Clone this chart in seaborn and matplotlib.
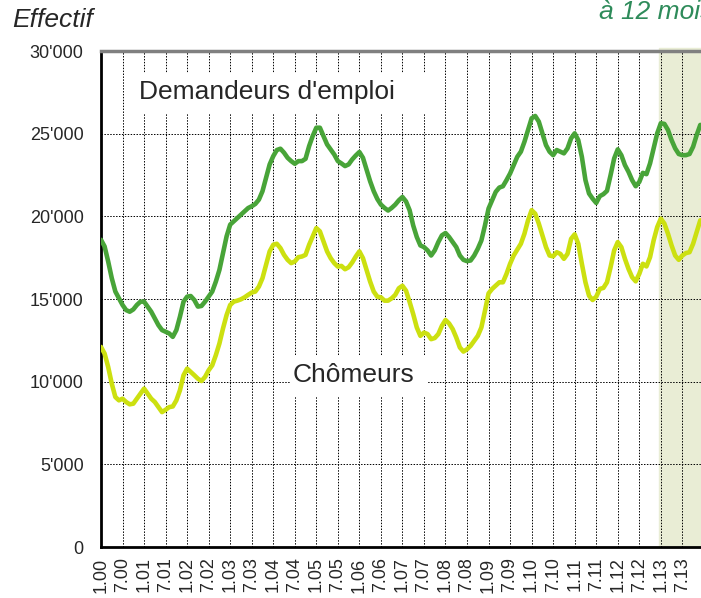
import numpy as np
import pandas as pd
import matplotlib
matplotlib.use("Agg")
import matplotlib.pyplot as plt
from matplotlib.patches import Rectangle
import seaborn as sns

# monthly values, Jan 2000 .. Dec 2013
demandeurs = [
    18580, 18180, 17270, 16260, 15450, 15040, 14640, 14330, 14230, 14370, 14640, 14840,
    14840, 14540, 14230, 13830, 13420, 13120, 13020, 12920, 12710, 13120, 13930, 14840,
    15140, 15180, 14940, 14540, 14580, 14840, 15140, 15450, 16050, 16760, 17770, 18790,
    19500, 19700, 19900, 20100, 20300, 20500, 20610, 20750, 21010, 21520, 22330, 23140,
    23640, 24010, 24090, 23850, 23540, 23340, 23180, 23340, 23340, 23480, 24250, 24860,
    25360, 25360, 24860, 24350, 24050, 23740, 23340, 23200, 23040, 23140, 23440, 23680,
    23890, 23540, 22830, 22120, 21520, 21050, 20710, 20510, 20350, 20510, 20710, 20970,
    21170, 20900, 20370, 19450, 18750, 18240, 18140, 17940, 17630, 17940, 18440, 18850,
    18990, 18750, 18440, 18140, 17630, 17370, 17290, 17330, 17630, 18040, 18540, 19450,
    20470, 20970, 21480, 21740, 21820, 22190, 22590, 23100, 23600, 23910, 24510, 25220,
    25930, 26070, 25730, 25020, 24310, 23910, 23700, 24010, 23910, 23810, 24110, 24720,
    25020, 24610, 23600, 22190, 21380, 21070, 20810, 21220, 21340, 21540, 22490, 23500,
    24050, 23700, 23100, 22690, 22190, 21820, 22080, 22630, 22550, 23200, 24110, 25020,
    25630, 25590, 25220, 24610, 24110, 23770, 23700, 23700, 23770, 24210, 24920, 25530,
]
chomeurs = [
    12100, 11700, 10890, 9880, 9070, 8870, 8970, 8770, 8630, 8670, 8970, 9270,
    9580, 9270, 8970, 8770, 8460, 8160, 8300, 8460, 8500, 8870, 9480, 10390,
    10790, 10590, 10390, 10180, 10040, 10290, 10690, 10990, 11600, 12310, 13220, 14030,
    14640, 14840, 14900, 14980, 15100, 15250, 15390, 15450, 15750, 16260, 17070, 17880,
    18280, 18340, 18080, 17670, 17370, 17170, 17270, 17530, 17570, 17670, 18280, 18790,
    19290, 19090, 18480, 17880, 17470, 17170, 16960, 17000, 16800, 16920, 17210, 17570,
    17880, 17470, 16760, 16050, 15450, 15140, 15100, 14900, 14900, 15040, 15250, 15650,
    15800, 15500, 14820, 14090, 13280, 12770, 12970, 12880, 12570, 12640, 12880, 13380,
    13730, 13520, 13180, 12670, 12070, 11820, 11960, 12170, 12470, 12770, 13280, 14290,
    15340, 15610, 15810, 16010, 16010, 16520, 17130, 17630, 17980, 18340, 18950, 19760,
    20370, 20160, 19560, 18850, 18140, 17630, 17580, 17830, 17730, 17430, 17730, 18640,
    18910, 18340, 17130, 16010, 15200, 14940, 15140, 15610, 15670, 16010, 16920, 17940,
    18440, 18140, 17430, 16820, 16320, 16070, 16520, 17130, 16970, 17530, 18540, 19350,
    19860, 19560, 18950, 18240, 17630, 17370, 17630, 17780, 17830, 18340, 19050, 19760,
]
years = list(range(2000, 2014))
year_labels = ["1.%02d" % (y % 100) for y in years]
mid_labels = ["7.%02d" % (y % 100) for y in years]

months = np.arange(len(demandeurs))
df = pd.DataFrame({
    "mois": np.concatenate([months, months]),
    "effectif": demandeurs + chomeurs,
    "serie": ["Demandeurs d'emploi"] * len(months) + ["Chômeurs"] * len(months),
})

sns.set_style("white")
plt.rcParams["font.family"] = ["Liberation Sans", "DejaVu Sans"]

fig = plt.figure(figsize=(7.01, 5.98), dpi=100)
ax = fig.add_axes([101 / 701, 51 / 598, 600 / 701, 496 / 598])

# forecast band (12 months)
ax.axvspan(155.4, 170, ymax=1.007, color="#e9edd5", zorder=0, clip_on=False)

sns.lineplot(
    data=df, x="mois", y="effectif", hue="serie",
    palette={"Demandeurs d'emploi": "#48a438", "Chômeurs": "#cce010"},
    linewidth=3.3, legend=False, ax=ax, zorder=3,
)

ax.set_xlim(0, 167.2)
ax.set_ylim(0, 30000)
ax.set_yticks(range(0, 30001, 5000))
ax.set_yticklabels(["0"] + ["%d'000" % (v // 1000) for v in range(5000, 30001, 5000)])
ax.set_xticks([12 * i for i in range(len(years))])
ax.set_xticklabels(year_labels, rotation=90)
ax.set_xticks([12 * i + 6 for i in range(len(years))], minor=True)
ax.set_xticklabels(mid_labels, rotation=90, minor=True)
ax.tick_params(axis="both", which="major", labelsize=13, length=4.5, width=1.5, color="black")
ax.tick_params(axis="y", which="major", pad=8)
ax.tick_params(axis="x", which="major", pad=3)
ax.tick_params(axis="x", which="minor", labelsize=13, length=0, pad=7.5)

ax.grid(True, axis="both", which="major", linestyle=(0, (1.5, 1.5)), color="black", linewidth=0.7)
ax.grid(True, axis="x", which="minor", linestyle=(0, (1.5, 1.5)), color="black", linewidth=0.7)
ax.set_axisbelow(True)

for side in ["left", "bottom"]:
    ax.spines[side].set_color("black")
    ax.spines[side].set_linewidth(2)
ax.spines["top"].set_color("#808080")
ax.spines["top"].set_linewidth(2.5)
ax.spines["right"].set_visible(False)

ax.set_xlabel("")
ax.set_ylabel("")

# label boxes (white, no border), in axes fractions
ax.add_patch(Rectangle((0.048, 0.875), 0.51, 0.081, transform=ax.transAxes,
                       facecolor="white", edgecolor="none", zorder=2))
ax.add_patch(Rectangle((0.315, 0.302), 0.23, 0.085, transform=ax.transAxes,
                       facecolor="white", edgecolor="none", zorder=2))
ax.text(0.064, 0.917, "Demandeurs d'emploi", fontsize=19, va="center", ha="left",
        transform=ax.transAxes, zorder=4)
ax.text(0.32, 0.347, "Chômeurs", fontsize=19, va="center", ha="left",
        transform=ax.transAxes, zorder=4)

fig.text(12 / 701, 1 - 20 / 598, "Effectif", fontsize=19, style="italic", va="center", ha="left")
fig.text(599 / 701, 1 - 12 / 598, "à 12 mois", fontsize=19, style="italic", va="center",
         ha="left", color="#2e8b5a")

fig.savefig("out.png", dpi=100)
